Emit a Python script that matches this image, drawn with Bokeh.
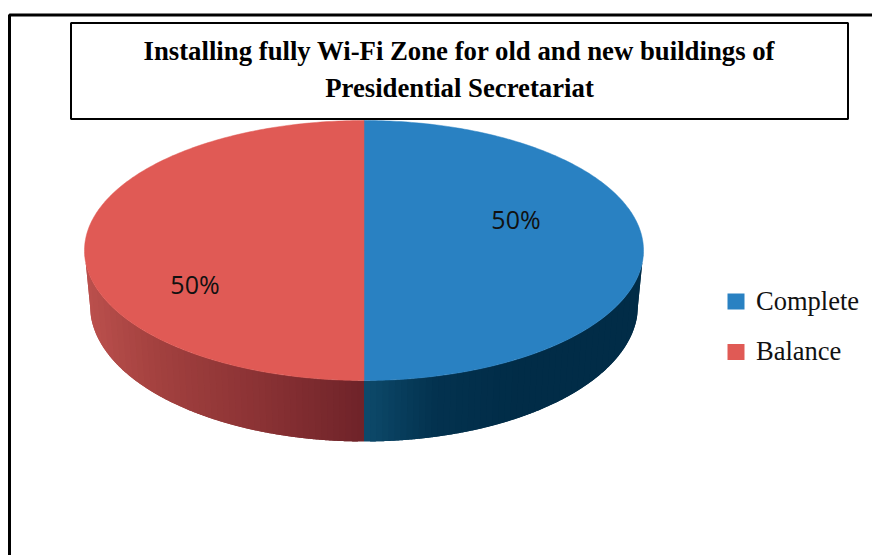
import numpy as np
from bokeh.plotting import figure
from bokeh.models import Range1d
from bokeh.core.properties import value
from bokeh.embed import file_html
from bokeh.resources import INLINE

TITLE_LINES = ["Installing fully Wi-Fi Zone for old and new buildings of", "Presidential Secretariat"]
CATEGORIES = ["Complete", "Balance"]
VALUES = [50, 50]
LABELS = ["50%", "50%"]
TOP_COLORS = ["#2981c2", "#e05a55"]
SIDE_STOPS = [
    [(0.0, "#0d4a6b"), (0.25, "#03324f"), (0.55, "#012c47"), (1.0, "#012c47")],
    [(0.0, "#6f2329"), (0.4, "#8c3335"), (0.75, "#a3413f"), (1.0, "#bb504d")],
]

W, H = 872, 555
p = figure(width=W, height=H, x_range=Range1d(0, W), y_range=Range1d(H, 0),
           output_backend="svg", toolbar_location=None, min_border=0,
           outline_line_color=None, background_fill_color="white")
p.xaxis.visible = False
p.yaxis.visible = False
p.grid.visible = False

cx, cy, rx, ry = 363.5, 250, 279.5, 130
cy2, rx2, ry2 = 305, 274, 136

def hexmix(a, b, t):
    ca = [int(a[i:i+2], 16) for i in (1, 3, 5)]
    cb = [int(b[i:i+2], 16) for i in (1, 3, 5)]
    return "#%02x%02x%02x" % tuple(int(round(x + (y - x) * t)) for x, y in zip(ca, cb))

def stop_color(stops, t):
    for (t0, c0), (t1, c1) in zip(stops, stops[1:]):
        if t <= t1:
            return hexmix(c0, c1, (t - t0) / (t1 - t0))
    return stops[-1][1]

total = sum(VALUES)
starts = np.cumsum([0] + VALUES[:-1]) / total * 2 * np.pi
ends = np.cumsum(VALUES) / total * 2 * np.pi

for i in range(len(VALUES)):
    n = 45
    edges = np.linspace(0, 1, n + 1)
    sign = 1 if i == 0 else -1
    for k in range(n):
        u0 = edges[k]
        u1 = edges[min(k + 2, n)]
        us = np.linspace(u0, u1, 12)
        root = np.sqrt(np.clip(1 - us ** 2, 0, 1))
        tx = cx + sign * rx * us
        ty = cy + ry * root
        bx = cx + sign * rx2 * us
        by = cy2 + ry2 * root
        c = stop_color(SIDE_STOPS[i], (edges[k] + edges[k + 1]) / 2)
        p.patch(list(bx) + list(tx[::-1]), list(by) + list(ty[::-1]),
                fill_color=c, line_color=None)

for i in range(len(VALUES)):
    t = np.linspace(starts[i], ends[i], 240)
    x = np.r_[cx, cx + rx * np.sin(t)]
    y = np.r_[cy, cy - ry * np.cos(t)]
    p.patch(x, y, fill_color=TOP_COLORS[i], line_color=TOP_COLORS[i], line_width=0.5)

p.text([515.5, 194.5], [218, 283], text=LABELS, text_font=value("Open Sans"), text_font_size="25px",
       text_color="#111111", text_align="center", text_baseline="middle")

p.line([9, 9, W], [H, 14.5, 14.5], line_color="black", line_width=3)

p.quad(left=[70.5], right=[847.5], top=[22.5], bottom=[118.5], fill_color="white",
       line_color="black", line_width=2)
p.text([459, 459], [50, 87], text=TITLE_LINES, text_font=value("Liberation Serif"),
       text_font_size="26.75px", text_font_style="bold", text_color="black",
       text_align="center", text_baseline="middle")

for i, name in enumerate(CATEGORIES):
    ly = [301, 351.5][i]
    p.quad(left=[727], right=[744], top=[ly - 8], bottom=[ly + 8], fill_color=TOP_COLORS[i], line_color=None)
p.text([755.5, 755.5], [300, 350], text=CATEGORIES, text_font=value("Liberation Serif"),
       text_font_size="26.5px", text_color="#111111", text_align="left", text_baseline="middle")

open("out.html", "w").write(file_html(p, INLINE))
